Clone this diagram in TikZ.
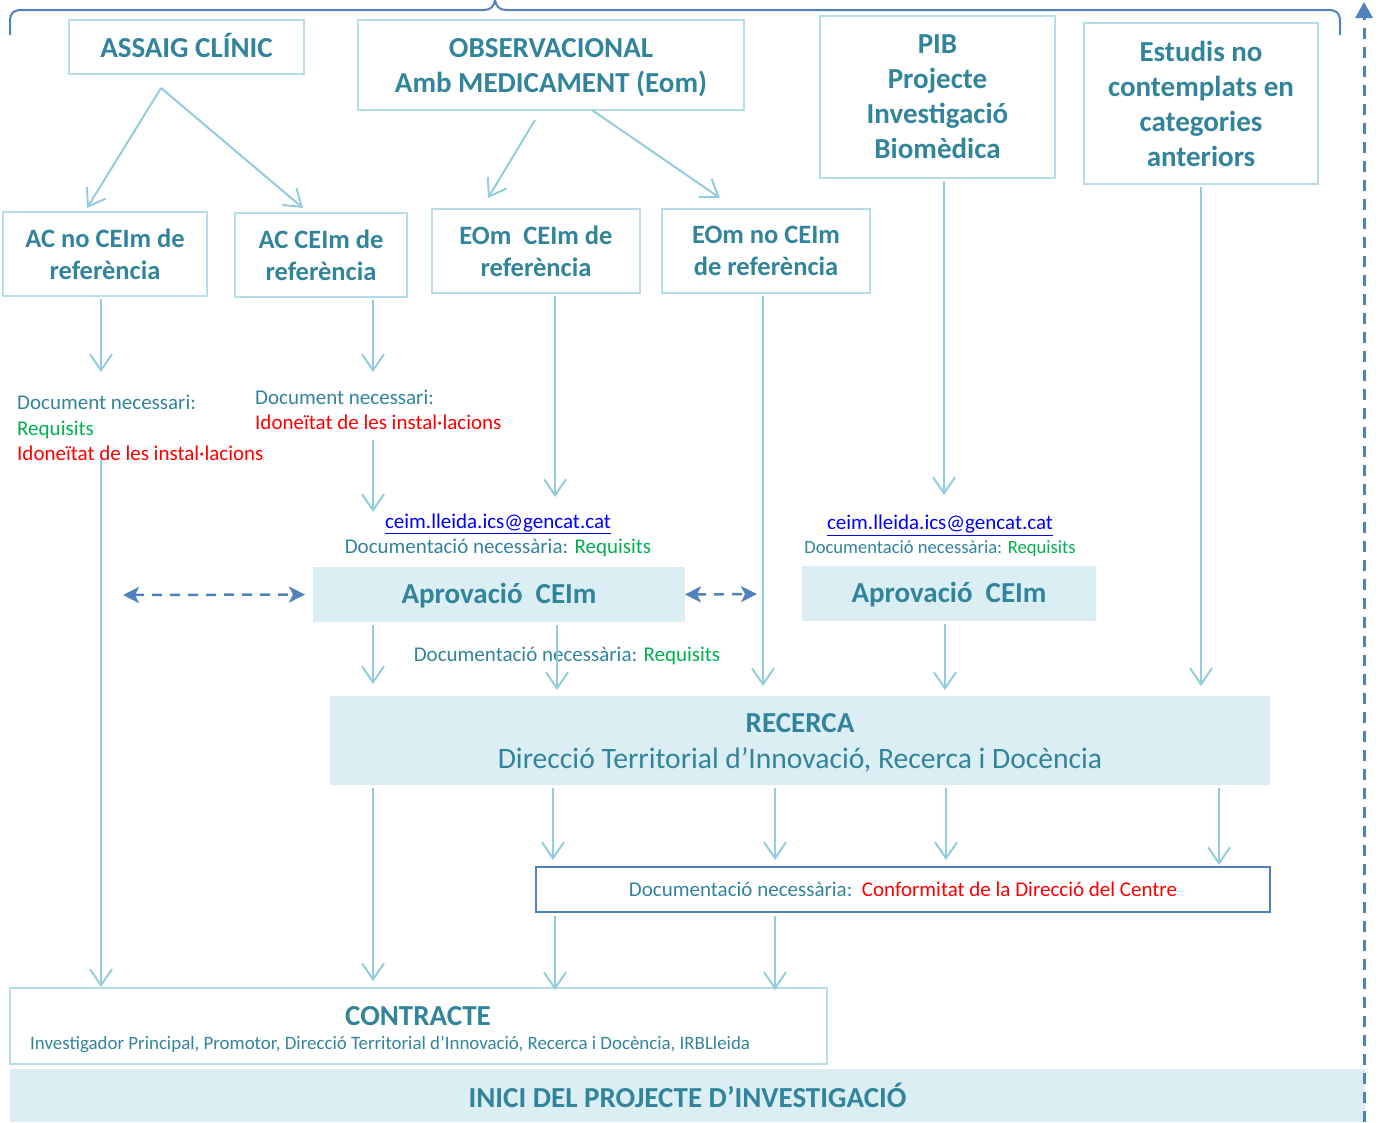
\documentclass[tikz,border=0pt]{standalone}
\usepackage{fontspec}
\setmainfont{Carlito}
\usetikzlibrary{arrows.meta}

\definecolor{tealtext}{HTML}{31849B}
\definecolor{boxline}{HTML}{B7DEE8}
\definecolor{arrline}{HTML}{93CDDD}
\definecolor{paleblue}{HTML}{DAEEF3}
\definecolor{darkblue}{HTML}{4F81BD}
\definecolor{okgreen}{HTML}{00B050}
\definecolor{warnred}{HTML}{FF0000}
\definecolor{mailblue}{HTML}{0000FF}

\newcommand{\fsize}[2]{\fontsize{#1}{#2}\selectfont}

\tikzset{
  catbox/.style={draw=boxline, line width=2pt, inner sep=0pt, outer sep=0pt, align=center, text=tealtext, font=\bfseries\fsize{29}{35}},
  subbox/.style={catbox, font=\bfseries\fsize{26.5}{32}},
  fillbox/.style={fill=paleblue, inner sep=0pt, outer sep=0pt, align=center, text=tealtext},
  note/.style={inner sep=0pt, text=tealtext, font=\fsize{21}{25.5}},
  arr/.style={draw=arrline, line width=2pt, -{Straight Barb[length=16pt,width=22pt]}},
  linkarr/.style={draw=darkblue, line width=2.5pt, dash pattern=on 10pt off 8pt, {Stealth[length=16pt,width=16pt,inset=4pt]}-{Stealth[length=16pt,width=16pt,inset=4pt]}},
  timearr/.style={draw=darkblue, line width=3pt, dash pattern=on 11pt off 8pt, -{Triangle[length=16pt,width=17pt]}}
}

\begin{document}
\begin{tikzpicture}[x=1pt,y=-1pt]
\useasboundingbox (0,0) rectangle (1396,1122);

% brace over the study types
\draw[darkblue, line width=2pt] (10,35) -- (10,22) .. controls (10,13) and (13,10) .. (22,10) -- (484,10) .. controls (491,10) and (494,6) .. (495,0) .. controls (496,6) and (499,10) .. (506,10) -- (1328,10) .. controls (1337,10) and (1340,13) .. (1340,22) -- (1340,35);

% study types
\node[catbox, minimum width=235, minimum height=54] (assaig) at (186.5,47) {};
\node[text=tealtext, inner sep=0pt, font=\bfseries\fsize{29}{35}] (assaigtxt) at (186.5,45) {ASSAIG CLÍNIC};
\node[catbox, minimum width=386, minimum height=90] (obs) at (551,65) {};
\node[text=tealtext, inner sep=0pt, align=center, font=\bfseries\fsize{29}{35}] (obstxt) at (551,68) {OBSERVACIONAL\\Amb MEDICAMENT (Eom)};
\node[catbox, minimum width=235, minimum height=162] (pib) at (937.5,97) {PIB\\Projecte\\Investigació\\Biomèdica};
\node[catbox, minimum width=234, minimum height=161] (estudis) at (1201,103.5) {Estudis no\\contemplats en\\categories\\anteriors};

\node[subbox, minimum width=204, minimum height=84] (acno) at (105,254) {AC no CEIm de\\referència};
\node[subbox, minimum width=172, minimum height=84] (acsi) at (321,255) {AC CEIm de\\referència};
\node[subbox, minimum width=208, minimum height=84] (eomsi) at (536,251) {EOm\ \ CEIm de\\referència};
\node[subbox, minimum width=208, minimum height=84] (eomno) at (766,251) {EOm no CEIm\\de referència};

% documents
\node[note, anchor=west, align=left] (docA) at (17,428) {Document necessari:\\\textcolor{okgreen}{Requisits}\\\textcolor{warnred}{Idoneïtat de les instal·lacions}};
\node[note, anchor=west, align=left] (docB) at (255,410) {Document necessari:\\\textcolor{warnred}{Idoneïtat de les instal·lacions}};
\node[note, align=center, font=\fsize{21}{25}] (mailA) at (498,535) {\textcolor{mailblue}{\underline{ceim.lleida.ics@gencat.cat}}\\Documentació necessària: \textcolor{okgreen}{Requisits}};
\node[note, align=center, font=\fsize{21}{24}] (mailB) at (940,536) {\textcolor{mailblue}{\underline{ceim.lleida.ics@gencat.cat}}\\{\fsize{18.6}{24}Documentació necessària: \textcolor{okgreen}{Requisits}}};

\node[fillbox, minimum width=372, minimum height=55, font=\bfseries\fsize{29}{35}] (aprA) at (499,594.5) {};
\node[text=tealtext, inner sep=0pt, font=\bfseries\fsize{29}{35}] (aprAtxt) at (499,596) {Aprovació\ \ CEIm};
\node[fillbox, minimum width=294, minimum height=55, font=\bfseries\fsize{29}{35}] (aprB) at (949,593.5) {};
\node[text=tealtext, inner sep=0pt, font=\bfseries\fsize{29}{35}] (aprBtxt) at (949,595) {Aprovació\ \ CEIm};
\node[note] (docC) at (567,656) {Documentació necessària: \textcolor{okgreen}{Requisits}};

\node[fillbox, minimum width=940, minimum height=89] (recerca) at (800,740.5) {};
\node[text=tealtext, inner sep=0pt, align=center, font=\fsize{29.6}{36}] (recercatxt) at (800,743) {{\bfseries\fsize{29}{36}RECERCA}\\Direcció Territorial d’Innovació, Recerca i Docència};

\node[draw=darkblue, line width=2pt, minimum width=734, minimum height=45, inner sep=0pt, text=tealtext, font=\fsize{21}{25}] (conf) at (903,889.5) {Documentació necessària:\ \ \textcolor{warnred}{Conformitat de la Direcció del Centre}};

\node[draw=boxline, line width=2pt, minimum width=817, minimum height=76, inner sep=0pt] (contracte) at (418.5,1026) {};
\node[text=tealtext, inner sep=0pt, font=\bfseries\fsize{29}{35}] (ctitle) at (418,1016) {CONTRACTE};
\node[text=tealtext, inner sep=0pt, anchor=west, font=\fsize{18.9}{22}] (cparts) at (30,1044) {Investigador Principal, Promotor, Direcció Territorial d’Innovació, Recerca i Docència, IRBLleida};

\node[fillbox, minimum width=1355, minimum height=53, font=\bfseries\fsize{29}{35}] (inici) at (687.5,1095.5) {INICI DEL PROJECTE D’INVESTIGACIÓ};

% arrow ends
\coordinate (split) at (161,88);
\coordinate (acnoIn) at (87,208);
\coordinate (acsiIn) at (303,208);
\coordinate (obsOutL) at (535,120);
\coordinate (obsOutR) at (592,110);
\coordinate (eomsiIn) at (488,198);
\coordinate (eomnoIn) at (720,198);
\coordinate (acnoDoc) at (101,372);
\coordinate (acsiDoc) at (373,372);
\coordinate (eomsiMail) at (555,497);
\coordinate (eomnoRec) at (763,686);
\coordinate (pibMail) at (944,495);
\coordinate (estudisRec) at (1201,686);
\coordinate (aprArecL) at (373,684);
\coordinate (aprArecR) at (557,690);
\coordinate (aprBrec) at (945,690);
\coordinate (recConfA) at (553,860);
\coordinate (recConfB) at (775,860);
\coordinate (recConfC) at (946,860);
\coordinate (recConfD) at (1219,865);
\coordinate (confConA) at (555,990);
\coordinate (confConB) at (775,990);
\coordinate (recCon) at (373,981);
\coordinate (docAout) at (101,460);
\coordinate (docBout) at (373,440);
\coordinate (mailIn) at (373,512);
\coordinate (ctrL) at (123,595);
\coordinate (ctrR) at (757,594);
\coordinate (timeBot) at (1364,1122);
\coordinate (timeTop) at (1364,2);

\draw[arr] (split) -- (acnoIn);
\draw[arr] (split) -- (acsiIn);
\draw[arr] (obsOutL) -- (eomsiIn);
\draw[arr] (obsOutR) -- (eomnoIn);

\foreach \src/\dst in {acno/acnoDoc, acsi/acsiDoc, eomsi/eomsiMail, eomno/eomnoRec, pib/pibMail, estudis/estudisRec, aprA/aprArecL, aprA/aprArecR, aprB/aprBrec, recerca/recConfA, recerca/recConfB, recerca/recConfC, recerca/recConfD, recerca/recCon, conf/confConA, conf/confConB}
\draw[arr, shorten <=3pt] (\src.south -| \dst) -- (\dst);

\draw[arr] (docAout) -- (contracte.north -| docAout);
\draw[arr] (docBout) -- (mailIn);

\draw[linkarr, shorten >=8pt] (ctrL) -- (aprA.west);
\draw[linkarr] (aprA.east) -- (ctrR);
\draw[timearr] (timeBot) -- (timeTop);

\end{tikzpicture}
\end{document}
